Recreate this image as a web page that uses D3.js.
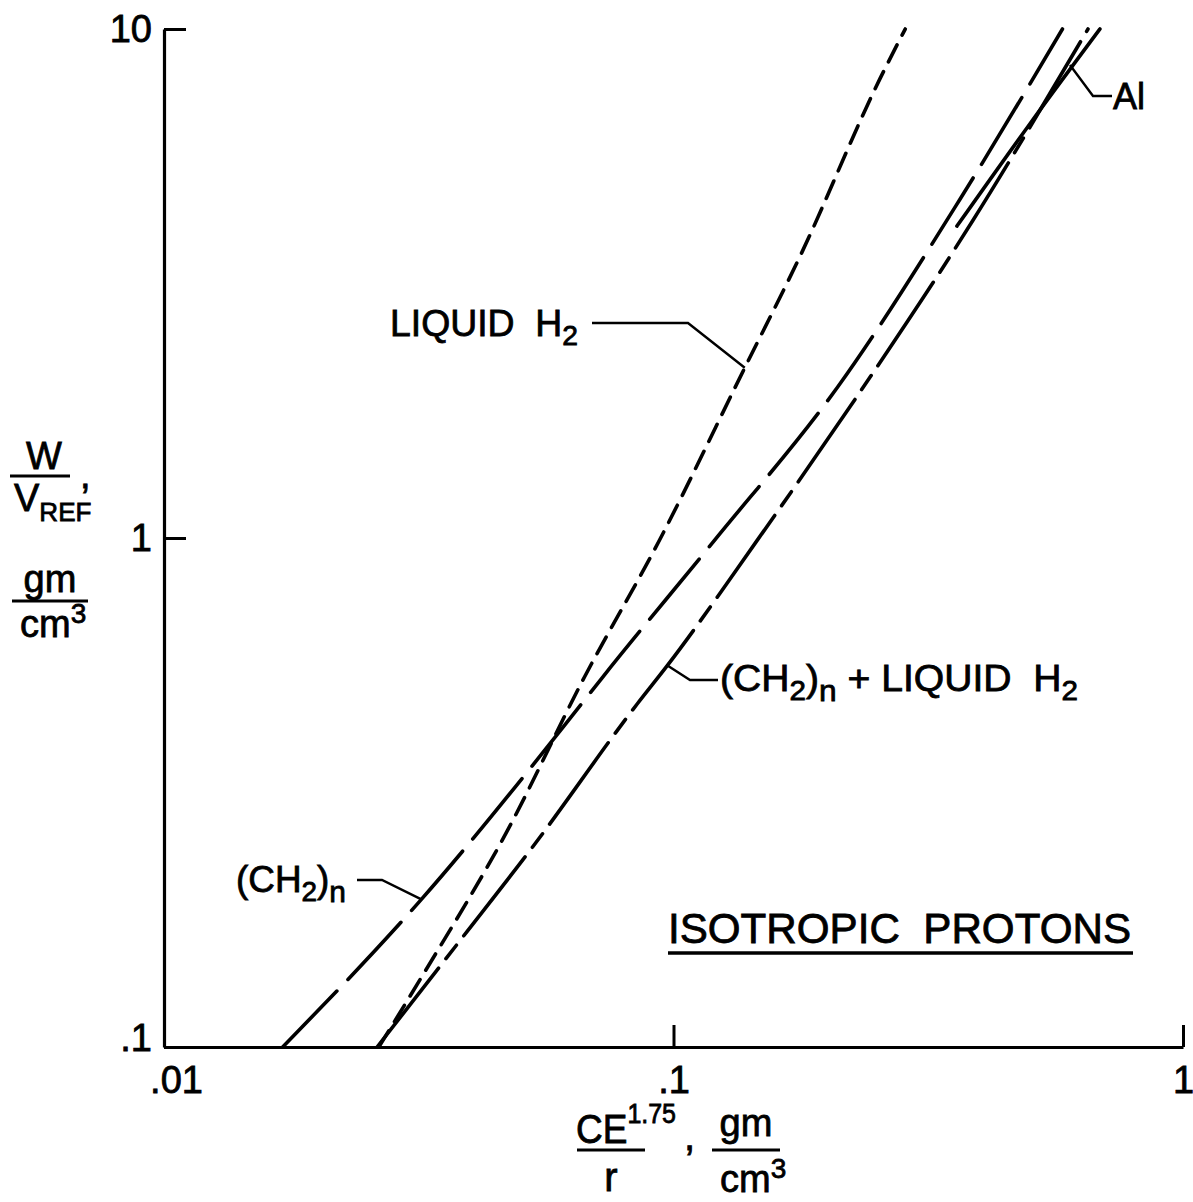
<!DOCTYPE html>
<html>
<head>
<meta charset="utf-8">
<script src="https://cdn.jsdelivr.net/npm/d3@7"></script>
<style>
    body { margin: 0; background: #fff; }
    text { font-family: "Liberation Sans", Arial, sans-serif; fill: #000; stroke: #000; stroke-width: 0.8px; white-space: pre; }
</style>
</head>
<body>
<div id="chart"></div>
<script>
// tick values + labels
const xTicks = [0.01, 0.1, 1];
const xTickLabels = ['.01', '.1', '1'];
const yTicks = [0.1, 1, 10];
const yTickLabels = ['.1', '1', '10'];

// curves (x = CE^1.75/r, y = W/Vref)
const liquidH2X = [0.0264, 0.032, 0.047, 0.0668, 0.0939, 0.138, 0.177, 0.254, 0.285];
const liquidH2Y = [0.1, 0.137, 0.264, 0.532, 0.991, 2.16, 3.57, 7.97, 10];

const ch2X = [0.0171, 0.032, 0.0605, 0.0725, 0.12, 0.21, 0.365, 0.58];
const ch2Y = [0.1, 0.195, 0.423, 0.532, 0.986, 1.98, 4.63, 10];

const ch2PlusH2X = [0.0262, 0.0385, 0.0528, 0.085, 0.0973, 0.1456, 0.222, 0.386, 0.651];
const ch2PlusH2Y = [0.1, 0.164, 0.2465, 0.473, 0.562, 0.986, 1.81, 4.19, 10];

const alX = [0.36, 0.5, 0.687];
const alY = [4.1, 6.5, 10];

const width = 1193;
const height = 1202;

const svg = d3.select('#chart')
    .append('svg')
    .attr('width', width)
    .attr('height', height);

const x = d3.scaleLog().domain([0.01, 1]).range([164, 1183]);
const y = d3.scaleLog().domain([0.1, 10]).range([1047, 29]);

/* axes */
const xAxis = d3.axisBottom(x)
    .tickValues(xTicks)
    .tickFormat((d, i) => xTickLabels[i])
    .tickSizeInner(-22)
    .tickSizeOuter(0)
    .tickPadding(19);

const yAxis = d3.axisLeft(y)
    .tickValues(yTicks)
    .tickFormat((d, i) => yTickLabels[i])
    .tickSizeInner(-22)
    .tickSizeOuter(0)
    .tickPadding(12);

const gx = svg.append('g')
    .attr('transform', `translate(0, ${y(0.1)})`)
    .call(xAxis);

const gy = svg.append('g')
    .attr('transform', `translate(${x(0.01)}, 0)`)
    .call(yAxis);

[gx, gy].forEach(g => {
    g.attr('font-size', 38).attr('font-family', null);
    g.select('.domain').attr('stroke', '#000').attr('stroke-width', 3.2);
    g.selectAll('.tick line').attr('stroke', '#000').attr('stroke-width', 3);
    g.selectAll('.tick text').attr('fill', '#000');
});
// nudge labels like the original lettering
gx.selectAll('.tick text').filter((d, i) => i === 0).attr('dx', 12);
gy.selectAll('.tick text').filter((d, i) => i === 0).attr('y', -9);

/* curves */
const line = d3.line()
    .x(d => x(d[0]))
    .y(d => y(d[1]))
    .curve(d3.curveMonotoneX);

const curves = [
    {xs: liquidH2X, ys: liquidH2Y, dash: '19,11'},
    {xs: ch2X, ys: ch2Y, dash: '78,16'},
    {xs: ch2PlusH2X, ys: ch2PlusH2Y, dash: '100,12,17,12'},
    {xs: alX, ys: alY, dash: null}
];

curves.forEach(c => {
    svg.append('path')
        .datum(c.xs.map((v, i) => [v, c.ys[i]]))
        .attr('d', line)
        .attr('fill', 'none')
        .attr('stroke', '#000')
        .attr('stroke-width', 3.6)
        .attr('stroke-linecap', 'round')
        .attr('stroke-dasharray', c.dash);
});

/* leaders: end on a curve point, elbow in pixels */
const leader = (pts) => {
    svg.append('path')
        .attr('d', d3.line()(pts))
        .attr('fill', 'none')
        .attr('stroke', '#000')
        .attr('stroke-width', 2.4);
};

leader([[592, 323], [688, 323], [x(0.138), y(2.16)]]);
leader([[357, 880], [382, 880], [x(0.032), y(0.195)]]);
leader([[x(0.0973), y(0.562)], [690, 680], [718, 680]]);
leader([[x(0.6), y(8.5)], [1093, 96], [1112, 96]]);

/* labels */
const label = (xp, yp, size, parts, len) => {
    const t = svg.append('text')
        .attr('x', xp)
        .attr('y', yp)
        .attr('font-size', size);
    parts.forEach(p => {
        t.append('tspan')
            .attr('font-size', p.size || size)
            .attr('dy', p.dy || 0)
            .text(p.t);
    });
    if (len) t.attr('textLength', len).attr('lengthAdjust', 'spacingAndGlyphs');
    return t;
};

label(390, 336, 37, [{t: 'LIQUID  H'}, {t: '2', size: 28, dy: 9}], 188);
label(236, 892, 37, [{t: '(CH'}, {t: '2', size: 28, dy: 9}, {t: ')', dy: -9}, {t: 'n', size: 30, dy: 10}], 110);
label(720, 691, 37, [{t: '(CH'}, {t: '2', size: 28, dy: 9}, {t: ')', dy: -9}, {t: 'n', size: 30, dy: 10},
    {t: ' + LIQUID  H', dy: -10}, {t: '2', size: 28, dy: 9}], 358);
label(1113, 109, 37, [{t: 'Al'}], 32);

label(668, 943, 43, [{t: 'ISOTROPIC  PROTONS'}], 463);
svg.append('line')
    .attr('x1', 668).attr('x2', 1133)
    .attr('y1', 953).attr('y2', 953)
    .attr('stroke', '#000').attr('stroke-width', 3.5);

/* y axis title: W / V_REF , gm / cm3 */
svg.append('text').attr('x', 44).attr('y', 469).attr('font-size', 38)
    .attr('text-anchor', 'middle').text('W');
svg.append('line').attr('x1', 10).attr('x2', 70).attr('y1', 476).attr('y2', 476)
    .attr('stroke', '#000').attr('stroke-width', 3);
label(14, 511, 38, [{t: 'V'}, {t: 'REF', size: 26, dy: 10}]);
label(80, 488, 38, [{t: ','}]);
svg.append('text').attr('x', 50).attr('y', 592).attr('font-size', 38)
    .attr('text-anchor', 'middle').text('gm');
svg.append('line').attr('x1', 12).attr('x2', 88).attr('y1', 601).attr('y2', 601)
    .attr('stroke', '#000').attr('stroke-width', 3);
label(20, 637, 38, [{t: 'cm'}, {t: '3', size: 28, dy: -14}]);

/* x axis title: CE^1.75 / r , gm / cm3 */
label(576, 1143, 40, [{t: 'CE'}, {t: '1.75', size: 27, dy: -20}], 100);
svg.append('line').attr('x1', 577).attr('x2', 645).attr('y1', 1150).attr('y2', 1150)
    .attr('stroke', '#000').attr('stroke-width', 3);
svg.append('text').attr('x', 611).attr('y', 1191).attr('font-size', 40)
    .attr('text-anchor', 'middle').text('r');
label(684, 1150, 40, [{t: ','}]);
svg.append('text').attr('x', 746).attr('y', 1136).attr('font-size', 38)
    .attr('text-anchor', 'middle').text('gm');
svg.append('line').attr('x1', 712).attr('x2', 780).attr('y1', 1150).attr('y2', 1150)
    .attr('stroke', '#000').attr('stroke-width', 3);
label(720, 1192, 38, [{t: 'cm'}, {t: '3', size: 28, dy: -14}]);
</script>
</body>
</html>
